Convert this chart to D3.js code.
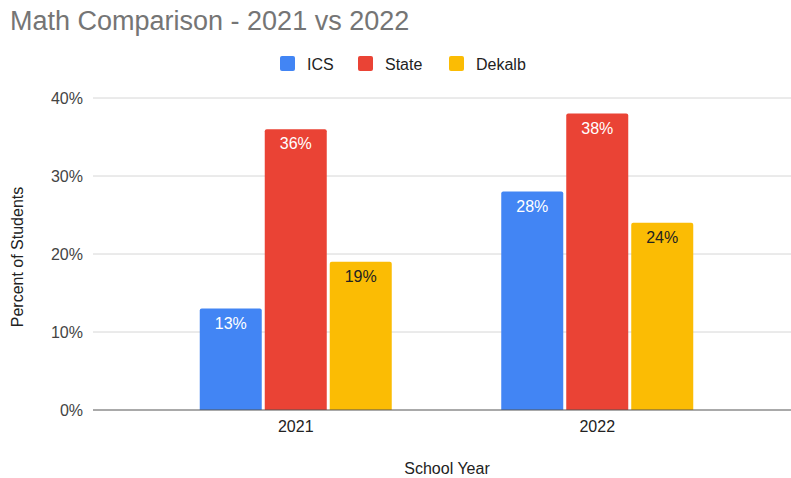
<!DOCTYPE html>
<html>
<head>
<meta charset="utf-8">
<script src="https://cdn.jsdelivr.net/npm/d3@7"></script>
<style>
  html, body { margin: 0; padding: 0; background: #fff; }
  svg { display: block; font-family: "Liberation Sans", Arial, sans-serif; }
</style>
</head>
<body>
<svg id="chart" width="791" height="478"></svg>
<script>
const years = ["2021", "2022"];
const seriesNames = ["ICS", "State", "Dekalb"];
const ics = [0.13, 0.28];
const state = [0.36, 0.38];
const dekalb = [0.19, 0.24];
const yTicks = [0, 0.1, 0.2, 0.3, 0.4];
const colors = ["#4285F4", "#EA4335", "#FBBC04"];
const labelColors = ["#ffffff", "#ffffff", "#222222"];

const seriesValues = [ics, state, dekalb];

const svg = d3.select("#chart");
const gridLeft = 93, gridRight = 791;
const FS = 16;

const x0 = d3.scaleBand().domain(years).range([145, 748]).padding(0);
const groupW = 192;
const x1 = d3.scaleBand().domain(seriesNames)
  .range([(x0.bandwidth() - groupW) / 2, (x0.bandwidth() + groupW) / 2])
  .paddingInner(0.046).paddingOuter(0);
const y = d3.scaleLinear().domain([0, 0.4]).range([410, 98]);

// Title
svg.append("text")
  .attr("x", 10).attr("y", 30)
  .attr("font-size", 27).attr("fill", "#757575")
  .text("Math Comparison - 2021 vs 2022");

// Legend
const legendX = [280, 358, 449];
const legend = svg.append("g");
seriesNames.forEach((s, i) => {
  legend.append("rect").attr("x", legendX[i]).attr("y", 56).attr("width", 15).attr("height", 15)
    .attr("rx", 2).attr("fill", colors[i]);
  legend.append("text").attr("x", legendX[i] + 27).attr("y", 70)
    .attr("font-size", FS).attr("fill", "#222").text(s);
});

// Gridlines
const grid = svg.append("g");
grid.selectAll("line").data(yTicks.filter(d => d > 0)).join("line")
  .attr("x1", gridLeft).attr("x2", gridRight)
  .attr("y1", d => y(d)).attr("y2", d => y(d))
  .attr("stroke", "#d6d6d6").attr("stroke-width", 1);

// Y axis labels
const yAxis = d3.axisLeft(y).tickValues(yTicks).tickFormat(d3.format(".0%")).tickSize(0).tickPadding(10);
const ya = svg.append("g").attr("transform", `translate(${gridLeft},0)`).call(yAxis);
ya.select(".domain").remove();
ya.selectAll("text").attr("font-size", FS).attr("fill", "#444").attr("font-family", "Liberation Sans, Arial, sans-serif");

// Bars
const groups = svg.append("g").selectAll("g").data(years).join("g")
  .attr("transform", d => `translate(${x0(d)},0)`);
groups.each(function(yr, yi) {
  const g = d3.select(this);
  seriesNames.forEach((s, si) => {
    const v = seriesValues[si][yi];
    g.append("path")
      .attr("d", () => {
        const bx = x1(s), bw = x1.bandwidth(), top = y(v), bot = y(0), r = 2;
        return `M${bx},${bot} L${bx},${top + r} Q${bx},${top} ${bx + r},${top} L${bx + bw - r},${top} Q${bx + bw},${top} ${bx + bw},${top + r} L${bx + bw},${bot} Z`;
      })
      .attr("fill", colors[si]);
    g.append("text")
      .attr("x", x1(s) + x1.bandwidth() / 2)
      .attr("y", y(v) + 20)
      .attr("text-anchor", "middle")
      .attr("font-size", FS)
      .attr("fill", labelColors[si])
      .text(d3.format(".0%")(v));
  });
});

// Zero baseline
svg.append("line")
  .attr("x1", gridLeft).attr("x2", gridRight)
  .attr("y1", y(0)).attr("y2", y(0))
  .attr("stroke", "#555").attr("stroke-width", 1);

// X axis labels
const xAxis = d3.axisBottom(x0).tickSize(0).tickPadding(11);
const xa = svg.append("g").attr("transform", `translate(0,${y(0)})`).call(xAxis);
xa.select(".domain").remove();
xa.selectAll("text").attr("font-size", FS).attr("fill", "#222").attr("font-family", "Liberation Sans, Arial, sans-serif");

// Axis titles
svg.append("text")
  .attr("x", 447).attr("y", 474)
  .attr("text-anchor", "middle").attr("font-size", FS).attr("fill", "#222")
  .text("School Year");
svg.append("text")
  .attr("transform", "translate(23,257) rotate(-90)")
  .attr("text-anchor", "middle").attr("font-size", FS).attr("fill", "#222")
  .text("Percent of Students");
</script>
</body>
</html>
